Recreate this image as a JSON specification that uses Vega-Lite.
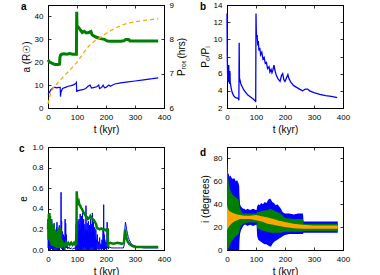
{
  "$schema": "https://vega.github.io/schema/vega-lite/v6.json",
  "background": "white",
  "padding": {"left": 18, "top": 0, "right": 0, "bottom": 0},
  "columns": 2,
  "spacing": {"row": 7, "column": 12},
  "datasets": {
    "ag": [
      {"t":0,"a":21},{"t":3,"a":20.5},{"t":6,"a":20},{"t":10,"a":19.8},{"t":15,"a":19.5},{"t":20,"a":19.2},{"t":25,"a":19},{"t":30,"a":19},{"t":35,"a":19},{"t":40,"a":19.2},{"t":41,"a":22},{"t":43,"a":23},{"t":47,"a":23.5},{"t":55,"a":23.7},{"t":65,"a":23.5},{"t":75,"a":23.8},{"t":85,"a":23.5},{"t":95,"a":23.5},{"t":98,"a":23.5},{"t":99,"a":42},{"t":100,"a":36},{"t":103,"a":35.5},{"t":107,"a":35},{"t":112,"a":34},{"t":118,"a":33},{"t":125,"a":33.5},{"t":132,"a":32.8},{"t":140,"a":33},{"t":148,"a":33.4},{"t":152,"a":32},{"t":158,"a":31.5},{"t":165,"a":31},{"t":175,"a":30.6},{"t":185,"a":30.2},{"t":195,"a":30},{"t":200,"a":29.5},{"t":205,"a":29.3},{"t":215,"a":29.2},{"t":230,"a":29.2},{"t":250,"a":29.2},{"t":262,"a":29.4},{"t":268,"a":29.9},{"t":278,"a":29.9},{"t":283,"a":29.3},{"t":300,"a":29.3},{"t":330,"a":29.3},{"t":360,"a":29.3},{"t":380,"a":29.3}
    ],
    "ab": [
      {"t":0,"a":6},{"t":3,"a":6.5},{"t":6,"a":7},{"t":10,"a":8},{"t":15,"a":8.5},{"t":20,"a":9},{"t":25,"a":9},{"t":30,"a":8.8},{"t":38,"a":9},{"t":42,"a":9},{"t":43,"a":5},{"t":45,"a":7},{"t":50,"a":8.5},{"t":60,"a":9},{"t":70,"a":9.5},{"t":80,"a":9.8},{"t":90,"a":10.2},{"t":97,"a":11},{"t":98,"a":11.2},{"t":99,"a":7},{"t":101,"a":7.5},{"t":110,"a":7.8},{"t":120,"a":8},{"t":130,"a":8.5},{"t":138,"a":9.5},{"t":145,"a":10},{"t":150,"a":8.7},{"t":160,"a":9},{"t":168,"a":9.3},{"t":175,"a":10},{"t":178,"a":8.5},{"t":185,"a":9},{"t":190,"a":10},{"t":195,"a":8.8},{"t":200,"a":9},{"t":205,"a":9.5},{"t":210,"a":10},{"t":215,"a":9.5},{"t":230,"a":10.5},{"t":250,"a":11},{"t":270,"a":11.3},{"t":300,"a":11.8},{"t":330,"a":12.3},{"t":360,"a":12.8},{"t":380,"a":13.2}
    ],
    "ao": [
      {"t":0,"p":6.12},{"t":5,"p":6.3},{"t":12,"p":6.5},{"t":20,"p":6.6},{"t":30,"p":6.7},{"t":45,"p":6.84},{"t":60,"p":6.97},{"t":75,"p":7.1},{"t":90,"p":7.24},{"t":100,"p":7.33},{"t":110,"p":7.45},{"t":120,"p":7.57},{"t":135,"p":7.75},{"t":150,"p":7.88},{"t":165,"p":7.98},{"t":180,"p":8.05},{"t":200,"p":8.17},{"t":220,"p":8.27},{"t":240,"p":8.36},{"t":260,"p":8.43},{"t":280,"p":8.48},{"t":300,"p":8.51},{"t":330,"p":8.55},{"t":360,"p":8.58},{"t":380,"p":8.6}
    ],
    "pb": [
      {"t":0,"r":13},{"t":1,"r":8},{"t":2,"r":6},{"t":3,"r":5},{"t":4,"r":6.5},{"t":5,"r":5},{"t":6,"r":7},{"t":7,"r":5.2},{"t":8,"r":6},{"t":9,"r":4.8},{"t":10,"r":6.3},{"t":11,"r":5},{"t":13,"r":4.6},{"t":15,"r":4.2},{"t":18,"r":3.8},{"t":22,"r":3.5},{"t":26,"r":3.3},{"t":30,"r":3.2},{"t":35,"r":3.15},{"t":40,"r":3.1},{"t":41,"r":2.9},{"t":42,"r":9.6},{"t":43,"r":5.5},{"t":45,"r":5.2},{"t":48,"r":4.8},{"t":52,"r":4.5},{"t":58,"r":4.1},{"t":65,"r":3.8},{"t":72,"r":3.5},{"t":80,"r":3.3},{"t":88,"r":3.1},{"t":95,"r":2.9},{"t":98,"r":2.8},{"t":99,"r":2.7},{"t":100,"r":13},{"t":101,"r":11},{"t":102,"r":10.3},{"t":104,"r":10.5},{"t":106,"r":9.3},{"t":108,"r":9.8},{"t":110,"r":8.7},{"t":113,"r":9},{"t":116,"r":8.2},{"t":120,"r":8.5},{"t":124,"r":7.7},{"t":128,"r":7.9},{"t":132,"r":7.2},{"t":136,"r":7.3},{"t":140,"r":6.6},{"t":145,"r":6.8},{"t":148,"r":6.2},{"t":152,"r":6.5},{"t":155,"r":6.1},{"t":158,"r":6.4},{"t":162,"r":7},{"t":166,"r":6.3},{"t":170,"r":5.8},{"t":176,"r":5.4},{"t":183,"r":5.1},{"t":188,"r":5.8},{"t":192,"r":6},{"t":196,"r":5.3},{"t":200,"r":5.1},{"t":205,"r":5.5},{"t":210,"r":5.9},{"t":214,"r":5.4},{"t":220,"r":5},{"t":230,"r":4.6},{"t":240,"r":4.4},{"t":250,"r":4.2},{"t":260,"r":4},{"t":265,"r":4.1},{"t":270,"r":4.2},{"t":278,"r":4.2},{"t":285,"r":4},{"t":300,"r":3.8},{"t":320,"r":3.6},{"t":340,"r":3.45},{"t":360,"r":3.35},{"t":380,"r":3.2}
    ],
    "cb": [
      {"t":0,"e":0.02},{"t":1,"e":0.3},{"t":2,"e":0.03},{"t":3,"e":0.27},{"t":4,"e":0.0},{"t":5,"e":0.31},{"t":6,"e":0.04},{"t":7,"e":0.22},{"t":8,"e":0.0},{"t":9,"e":0.29},{"t":10,"e":0.05},{"t":11,"e":0.18},{"t":12,"e":0.01},{"t":13,"e":0.3},{"t":14,"e":0.04},{"t":15,"e":0.2},{"t":16,"e":0.0},{"t":17,"e":0.24},{"t":18,"e":0.03},{"t":19,"e":0.15},{"t":20,"e":0.0},{"t":21,"e":0.26},{"t":22,"e":0.02},{"t":23,"e":0.12},{"t":24,"e":0.0},{"t":25,"e":0.18},{"t":26,"e":0.03},{"t":27,"e":0.1},{"t":28,"e":0.0},{"t":29,"e":0.22},{"t":30,"e":0.02},{"t":31,"e":0.27},{"t":32,"e":0.0},{"t":33,"e":0.14},{"t":34,"e":0.03},{"t":35,"e":0.2},{"t":36,"e":0.0},{"t":37,"e":0.1},{"t":38,"e":0.02},{"t":39,"e":0.24},{"t":40,"e":0.0},{"t":41,"e":0.13},{"t":42,"e":0.04},{"t":43,"e":0.2},{"t":44,"e":0.02},{"t":45,"e":0.56},{"t":46,"e":0.05},{"t":47,"e":0.28},{"t":48,"e":0.01},{"t":49,"e":0.18},{"t":50,"e":0.0},{"t":51,"e":0.1},{"t":52,"e":0.03},{"t":53,"e":0.15},{"t":54,"e":0.0},{"t":55,"e":0.08},{"t":56,"e":0.02},{"t":57,"e":0.13},{"t":58,"e":0.0},{"t":59,"e":0.3},{"t":60,"e":0.02},{"t":61,"e":0.26},{"t":62,"e":0.05},{"t":63,"e":0.15},{"t":64,"e":0.02},{"t":66,"e":0.06},{"t":68,"e":0.01},{"t":72,"e":0.03},{"t":76,"e":0.01},{"t":80,"e":0.02},{"t":85,"e":0.01},{"t":90,"e":0.02},{"t":94,"e":0.01},{"t":95,"e":0.15},{"t":96,"e":0.0},{"t":97,"e":0.25},{"t":98,"e":0.02},{"t":99,"e":0.3},{"t":100,"e":0.0},{"t":101,"e":0.22},{"t":102,"e":0.03},{"t":103,"e":0.28},{"t":104,"e":0.0},{"t":105,"e":0.18},{"t":106,"e":0.02},{"t":107,"e":0.3},{"t":108,"e":0.0},{"t":109,"e":0.25},{"t":110,"e":0.03},{"t":111,"e":0.35},{"t":112,"e":0.0},{"t":113,"e":0.2},{"t":114,"e":0.02},{"t":115,"e":0.33},{"t":116,"e":0.0},{"t":117,"e":0.24},{"t":118,"e":0.04},{"t":119,"e":0.36},{"t":120,"e":0.0},{"t":121,"e":0.22},{"t":122,"e":0.02},{"t":123,"e":0.3},{"t":124,"e":0.0},{"t":125,"e":0.15},{"t":126,"e":0.03},{"t":127,"e":0.25},{"t":128,"e":0.0},{"t":129,"e":0.2},{"t":130,"e":0.02},{"t":131,"e":0.43},{"t":132,"e":0.0},{"t":133,"e":0.18},{"t":134,"e":0.03},{"t":135,"e":0.26},{"t":136,"e":0.0},{"t":137,"e":0.2},{"t":138,"e":0.02},{"t":139,"e":0.28},{"t":140,"e":0.0},{"t":141,"e":0.15},{"t":142,"e":0.03},{"t":143,"e":0.24},{"t":144,"e":0.0},{"t":145,"e":0.2},{"t":146,"e":0.02},{"t":147,"e":0.3},{"t":148,"e":0.0},{"t":149,"e":0.18},{"t":150,"e":0.03},{"t":151,"e":0.25},{"t":152,"e":0.0},{"t":153,"e":0.36},{"t":154,"e":0.02},{"t":155,"e":0.2},{"t":156,"e":0.0},{"t":157,"e":0.27},{"t":158,"e":0.03},{"t":159,"e":0.15},{"t":160,"e":0.0},{"t":161,"e":0.22},{"t":162,"e":0.02},{"t":163,"e":0.12},{"t":164,"e":0.0},{"t":165,"e":0.2},{"t":166,"e":0.02},{"t":167,"e":0.1},{"t":168,"e":0.0},{"t":170,"e":0.15},{"t":172,"e":0.01},{"t":174,"e":0.08},{"t":176,"e":0.0},{"t":178,"e":0.12},{"t":180,"e":0.01},{"t":182,"e":0.06},{"t":184,"e":0.0},{"t":186,"e":0.1},{"t":188,"e":0.01},{"t":190,"e":0.2},{"t":191,"e":0.0},{"t":192,"e":0.44},{"t":193,"e":0.02},{"t":194,"e":0.15},{"t":195,"e":0.0},{"t":196,"e":0.1},{"t":198,"e":0.01},{"t":200,"e":0.08},{"t":202,"e":0.0},{"t":204,"e":0.27},{"t":205,"e":0.02},{"t":206,"e":0.12},{"t":208,"e":0.01},{"t":210,"e":0.03},{"t":220,"e":0.02},{"t":230,"e":0.02},{"t":240,"e":0.02},{"t":250,"e":0.02},{"t":260,"e":0.02},{"t":263,"e":0.05},{"t":265,"e":0.2},{"t":267,"e":0.27},{"t":269,"e":0.24},{"t":271,"e":0.2},{"t":274,"e":0.16},{"t":277,"e":0.12},{"t":280,"e":0.1},{"t":285,"e":0.07},{"t":290,"e":0.05},{"t":300,"e":0.04},{"t":310,"e":0.03},{"t":330,"e":0.02},{"t":360,"e":0.02},{"t":380,"e":0.02}
    ],
    "cg": [
      {"t":0,"e":0.2},{"t":1,"e":0.3},{"t":2,"e":0.1},{"t":3,"e":0.35},{"t":4,"e":0.15},{"t":5,"e":0.36},{"t":6,"e":0.12},{"t":7,"e":0.33},{"t":8,"e":0.08},{"t":9,"e":0.3},{"t":10,"e":0.1},{"t":11,"e":0.28},{"t":12,"e":0.05},{"t":13,"e":0.25},{"t":14,"e":0.08},{"t":15,"e":0.22},{"t":16,"e":0.04},{"t":17,"e":0.2},{"t":18,"e":0.1},{"t":19,"e":0.25},{"t":20,"e":0.05},{"t":21,"e":0.18},{"t":22,"e":0.08},{"t":23,"e":0.2},{"t":24,"e":0.03},{"t":25,"e":0.15},{"t":26,"e":0.07},{"t":27,"e":0.18},{"t":28,"e":0.03},{"t":29,"e":0.14},{"t":30,"e":0.06},{"t":31,"e":0.18},{"t":32,"e":0.02},{"t":33,"e":0.15},{"t":34,"e":0.05},{"t":35,"e":0.2},{"t":36,"e":0.02},{"t":37,"e":0.12},{"t":38,"e":0.06},{"t":39,"e":0.22},{"t":40,"e":0.02},{"t":41,"e":0.12},{"t":42,"e":0.04},{"t":43,"e":0.2},{"t":44,"e":0.03},{"t":45,"e":0.1},{"t":46,"e":0.02},{"t":47,"e":0.1},{"t":48,"e":0.03},{"t":50,"e":0.08},{"t":52,"e":0.03},{"t":55,"e":0.07},{"t":58,"e":0.04},{"t":62,"e":0.07},{"t":66,"e":0.05},{"t":70,"e":0.07},{"t":75,"e":0.05},{"t":80,"e":0.07},{"t":85,"e":0.05},{"t":90,"e":0.07},{"t":95,"e":0.05},{"t":98,"e":0.06},{"t":99,"e":0.57},{"t":100,"e":0.52},{"t":102,"e":0.48},{"t":104,"e":0.46},{"t":106,"e":0.47},{"t":108,"e":0.44},{"t":111,"e":0.43},{"t":114,"e":0.41},{"t":117,"e":0.4},{"t":120,"e":0.38},{"t":123,"e":0.36},{"t":126,"e":0.35},{"t":130,"e":0.33},{"t":134,"e":0.32},{"t":138,"e":0.3},{"t":142,"e":0.31},{"t":146,"e":0.33},{"t":150,"e":0.31},{"t":154,"e":0.3},{"t":158,"e":0.29},{"t":162,"e":0.27},{"t":166,"e":0.25},{"t":168,"e":0.22},{"t":172,"e":0.21},{"t":178,"e":0.2},{"t":184,"e":0.21},{"t":190,"e":0.2},{"t":196,"e":0.2},{"t":200,"e":0.19},{"t":204,"e":0.2},{"t":206,"e":0.2},{"t":207,"e":0.03},{"t":208,"e":0.06},{"t":215,"e":0.07},{"t":225,"e":0.06},{"t":240,"e":0.07},{"t":255,"e":0.06},{"t":262,"e":0.07},{"t":264,"e":0.15},{"t":266,"e":0.2},{"t":268,"e":0.15},{"t":271,"e":0.11},{"t":275,"e":0.08},{"t":280,"e":0.06},{"t":290,"e":0.04},{"t":300,"e":0.03},{"t":320,"e":0.03},{"t":350,"e":0.03},{"t":380,"e":0.03}
    ],
    "db": [
      {"t":0,"lo":0,"hi":80},{"t":1,"lo":0,"hi":74},{"t":2,"lo":0,"hi":70},{"t":4,"lo":0,"hi":66},{"t":6,"lo":0,"hi":67},{"t":8,"lo":0,"hi":64},{"t":12,"lo":0,"hi":65},{"t":16,"lo":0,"hi":63},{"t":20,"lo":0,"hi":62},{"t":25,"lo":0,"hi":63},{"t":30,"lo":0,"hi":60},{"t":35,"lo":0,"hi":61},{"t":40,"lo":0,"hi":58},{"t":42,"lo":0,"hi":56},{"t":43,"lo":8,"hi":48},{"t":45,"lo":14,"hi":40},{"t":48,"lo":17,"hi":38},{"t":52,"lo":19,"hi":37},{"t":56,"lo":21,"hi":36},{"t":60,"lo":22,"hi":36},{"t":65,"lo":22,"hi":35},{"t":70,"lo":21,"hi":36},{"t":80,"lo":22,"hi":35},{"t":90,"lo":21,"hi":36},{"t":100,"lo":22,"hi":35},{"t":102,"lo":22,"hi":35},{"t":104,"lo":12,"hi":38},{"t":108,"lo":9,"hi":40},{"t":112,"lo":8,"hi":39},{"t":118,"lo":7,"hi":41},{"t":124,"lo":6,"hi":40},{"t":130,"lo":5,"hi":42},{"t":136,"lo":5,"hi":41},{"t":142,"lo":4,"hi":44},{"t":148,"lo":3,"hi":45},{"t":152,"lo":3,"hi":44},{"t":156,"lo":5,"hi":42},{"t":162,"lo":7,"hi":41},{"t":168,"lo":8,"hi":39},{"t":174,"lo":9,"hi":40},{"t":180,"lo":10,"hi":38},{"t":186,"lo":11,"hi":36},{"t":192,"lo":12,"hi":33},{"t":200,"lo":13,"hi":32},{"t":215,"lo":14,"hi":32},{"t":230,"lo":14,"hi":31},{"t":245,"lo":14,"hi":32},{"t":262,"lo":14,"hi":32},{"t":264,"lo":15,"hi":25},{"t":300,"lo":15,"hi":25},{"t":340,"lo":15,"hi":25},{"t":382,"lo":15,"hi":25}
    ],
    "dg": [
      {"t":0,"lo":0,"hi":78},{"t":2,"lo":0,"hi":70},{"t":5,"lo":1,"hi":60},{"t":8,"lo":3,"hi":55},{"t":12,"lo":6,"hi":52},{"t":20,"lo":9,"hi":48},{"t":30,"lo":12,"hi":46},{"t":40,"lo":14,"hi":44},{"t":43,"lo":17,"hi":38},{"t":48,"lo":21,"hi":34},{"t":55,"lo":23,"hi":32},{"t":70,"lo":24,"hi":32},{"t":85,"lo":24,"hi":32},{"t":102,"lo":24,"hi":32},{"t":104,"lo":19,"hi":33},{"t":120,"lo":17,"hi":34},{"t":140,"lo":16,"hi":35},{"t":150,"lo":15,"hi":36},{"t":165,"lo":15,"hi":34},{"t":185,"lo":15,"hi":32},{"t":200,"lo":16,"hi":28},{"t":230,"lo":16,"hi":27},{"t":262,"lo":16,"hi":27},{"t":264,"lo":16.5,"hi":23},{"t":300,"lo":16.5,"hi":23},{"t":382,"lo":16.5,"hi":23}
    ],
    "do": [
      {"t":0,"lo":17,"hi":39},{"t":3,"lo":19,"hi":36},{"t":8,"lo":21,"hi":34},{"t":15,"lo":23,"hi":33},{"t":25,"lo":25,"hi":32},{"t":35,"lo":26,"hi":31},{"t":45,"lo":27,"hi":30.5},{"t":60,"lo":27,"hi":30},{"t":80,"lo":27,"hi":30},{"t":100,"lo":26,"hi":30.5},{"t":120,"lo":25,"hi":29.5},{"t":140,"lo":23,"hi":28.5},{"t":160,"lo":22,"hi":27},{"t":180,"lo":21,"hi":25.5},{"t":200,"lo":20,"hi":24.5},{"t":230,"lo":19,"hi":23},{"t":262,"lo":18.5,"hi":22},{"t":300,"lo":18.5,"hi":21.5},{"t":382,"lo":18.5,"hi":21.5}
    ]
  },
  "concat": [
    {
      "title": {"text": "a"},
      "width": 116, "height": 103,
      "layer": [
        {
          "data": {"name": "ag"},
          "mark": {"type": "line", "color": "#008000", "strokeWidth": 3},
          "encoding": {
            "x": {"field": "t", "type": "quantitative", "scale": {"domain": [0, 400], "nice": false}, "axis": {"orient": "bottom", "values": [0, 100, 200, 300, 400], "title": "t (kyr)"}},
            "y": {"field": "a", "type": "quantitative", "scale": {"domain": [0, 45], "nice": false}, "axis": {"orient": "left", "values": [0, 10, 20, 30, 40], "title": "a (R☉)"}}
          }
        },
        {
          "data": {"name": "ab"},
          "mark": {"type": "line", "color": "#0000ff", "strokeWidth": 1.2},
          "encoding": {
            "x": {"field": "t", "type": "quantitative", "scale": {"domain": [0, 400], "nice": false}, "axis": null},
            "y": {"field": "a", "type": "quantitative", "scale": {"domain": [0, 45], "nice": false}, "axis": null}
          }
        },
        {
          "data": {"name": "ao"},
          "mark": {"type": "line", "color": "#ffa500", "strokeWidth": 1.3, "strokeDash": [4, 3]},
          "encoding": {
            "x": {"field": "t", "type": "quantitative", "scale": {"domain": [0, 400], "nice": false}, "axis": {"orient": "top", "values": [0, 100, 200, 300, 400], "labels": false, "title": null}},
            "y": {"field": "p", "type": "quantitative", "scale": {"domain": [6, 9], "nice": false, "zero": false}, "axis": {"orient": "right", "values": [6, 7, 8, 9], "title": "Pᵣₒₜ (hrs)", "titleAngle": 270, "titleBaseline": "top"}}
          }
        }
      ],
      "resolve": {"scale": {"y": "independent"}, "axis": {"x": "independent", "y": "independent"}}
    },
    {
      "title": {"text": "b"},
      "width": 116, "height": 103,
      "data": {"name": "pb"},
      "layer": [
        {
          "mark": {"type": "line", "color": "#0000ff", "strokeWidth": 1.3},
          "encoding": {
            "x": {"field": "t", "type": "quantitative", "scale": {"domain": [0, 400], "nice": false}, "axis": {"orient": "bottom", "values": [0, 100, 200, 300, 400], "title": "t (kyr)"}},
            "y": {"field": "r", "type": "quantitative", "scale": {"domain": [2, 14], "nice": false, "zero": false}, "axis": {"orient": "left", "values": [2, 4, 6, 8, 10, 12, 14], "title": "Pₒ/Pᵢ"}}
          }
        },
        {
          "mark": {"type": "point", "opacity": 0},
          "encoding": {
            "x": {"field": "t", "type": "quantitative", "scale": {"domain": [0, 400], "nice": false}, "axis": {"orient": "top", "values": [0, 100, 200, 300, 400], "labels": false, "title": null}},
            "y": {"field": "r", "type": "quantitative", "scale": {"domain": [2, 14], "nice": false, "zero": false}, "axis": {"orient": "right", "values": [2, 4, 6, 8, 10, 12, 14], "labels": false, "title": null}}
          }
        }
      ],
      "resolve": {"axis": {"x": "independent", "y": "independent"}}
    },
    {
      "title": {"text": "c"},
      "width": 116, "height": 103,
      "layer": [
        {
          "data": {"name": "cb"},
          "mark": {"type": "line", "color": "#0000ff", "strokeWidth": 1},
          "encoding": {
            "x": {"field": "t", "type": "quantitative", "scale": {"domain": [0, 400], "nice": false}, "axis": {"orient": "bottom", "values": [0, 100, 200, 300, 400], "title": "t (kyr)"}},
            "y": {"field": "e", "type": "quantitative", "scale": {"domain": [0, 1], "nice": false}, "axis": {"orient": "left", "values": [0, 0.2, 0.4, 0.6, 0.8, 1], "format": ".1f", "title": "e"}}
          }
        },
        {
          "data": {"name": "cg"},
          "mark": {"type": "line", "color": "#008000", "strokeWidth": 2.5},
          "encoding": {
            "x": {"field": "t", "type": "quantitative", "scale": {"domain": [0, 400], "nice": false}, "axis": {"orient": "top", "values": [0, 100, 200, 300, 400], "labels": false, "title": null}},
            "y": {"field": "e", "type": "quantitative", "scale": {"domain": [0, 1], "nice": false}, "axis": {"orient": "right", "values": [0, 0.2, 0.4, 0.6, 0.8, 1], "labels": false, "title": null}}
          }
        }
      ],
      "resolve": {"axis": {"x": "independent", "y": "independent"}}
    },
    {
      "title": {"text": "d"},
      "width": 116, "height": 103,
      "layer": [
        {
          "data": {"name": "db"},
          "mark": {"type": "area", "color": "#0000ff", "opacity": 1},
          "encoding": {
            "x": {"field": "t", "type": "quantitative", "scale": {"domain": [0, 400], "nice": false}, "axis": {"orient": "bottom", "values": [0, 100, 200, 300, 400], "title": "t (kyr)"}},
            "y": {"field": "lo", "type": "quantitative", "scale": {"domain": [0, 90], "nice": false}, "axis": {"orient": "left", "values": [0, 20, 40, 60, 80], "title": "i (degrees)"}},
            "y2": {"field": "hi"}
          }
        },
        {
          "data": {"name": "dg"},
          "mark": {"type": "area", "color": "#008000", "opacity": 1},
          "encoding": {
            "x": {"field": "t", "type": "quantitative", "scale": {"domain": [0, 400], "nice": false}, "axis": null},
            "y": {"field": "lo", "type": "quantitative", "scale": {"domain": [0, 90], "nice": false}, "axis": null},
            "y2": {"field": "hi"}
          }
        },
        {
          "data": {"name": "do"},
          "mark": {"type": "area", "color": "#ffa500", "opacity": 1},
          "encoding": {
            "x": {"field": "t", "type": "quantitative", "scale": {"domain": [0, 400], "nice": false}, "axis": {"orient": "top", "values": [0, 100, 200, 300, 400], "labels": false, "title": null}},
            "y": {"field": "lo", "type": "quantitative", "scale": {"domain": [0, 90], "nice": false}, "axis": {"orient": "right", "values": [0, 20, 40, 60, 80], "labels": false, "title": null}},
            "y2": {"field": "hi"}
          }
        }
      ],
      "resolve": {"axis": {"x": "independent", "y": "independent"}}
    }
  ],
  "config": {
    "view": {"stroke": "black", "strokeWidth": 1},
    "font": "Liberation Sans",
    "title": {"anchor": "start", "frame": "bounds", "fontSize": 10, "fontWeight": "bold", "font": "Liberation Sans", "offset": -11, "color": "black"},
    "axis": {
      "grid": false,
      "labelFont": "Liberation Sans", "labelFontSize": 8, "labelColor": "black", "labelPadding": 8,
      "titleFont": "Liberation Sans", "titleFontSize": 10, "titleFontWeight": "normal", "titleColor": "black", "titlePadding": 3,
      "domainColor": "black", "domainWidth": 1,
      "tickColor": "black", "tickSize": -3, "tickWidth": 0.8,
      "labelFlush": false, "labelOverlap": false
    }
  }
}
